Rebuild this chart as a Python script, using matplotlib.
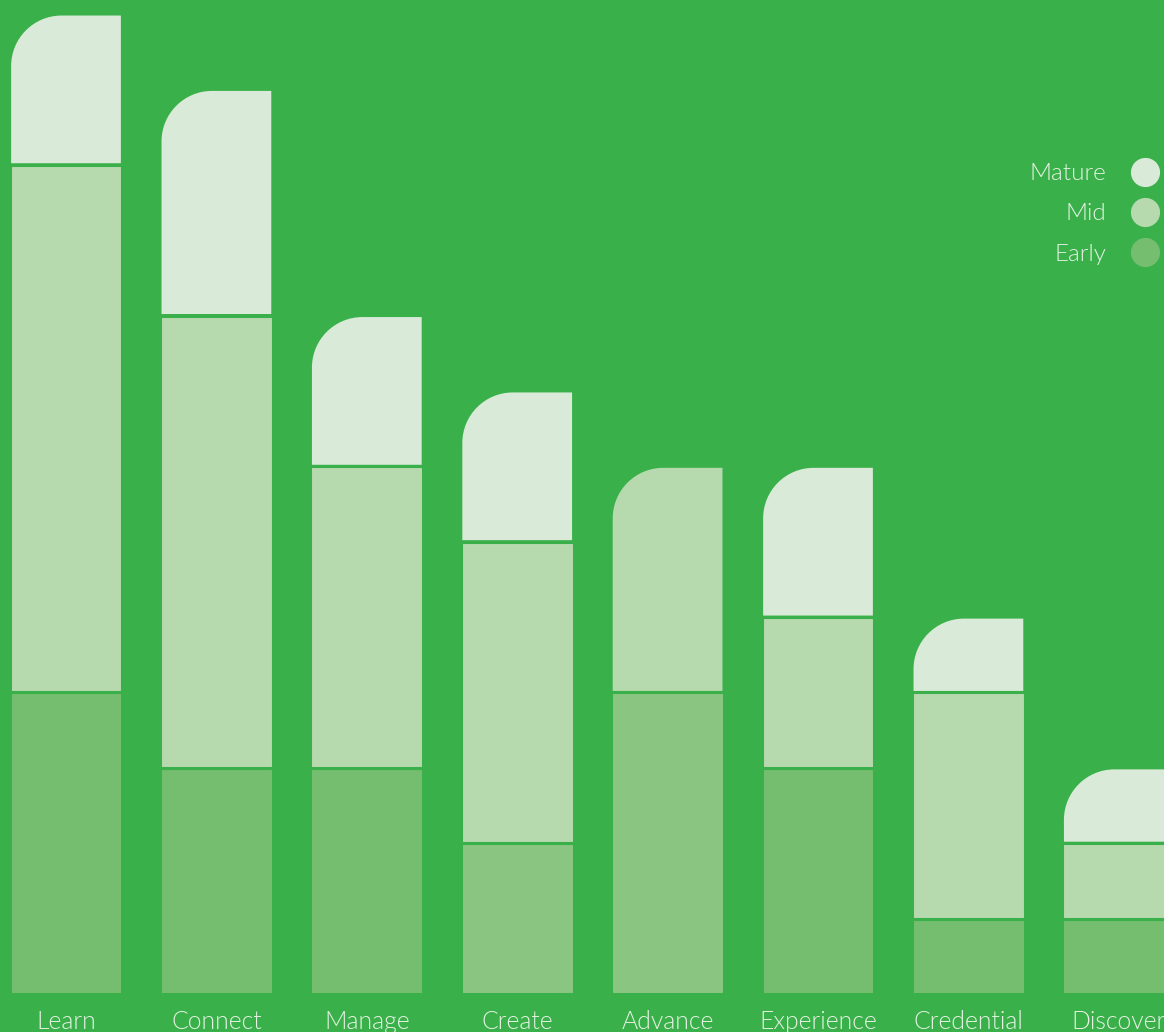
import matplotlib.pyplot as plt
from matplotlib.path import Path
from matplotlib.patches import PathPatch
from matplotlib.lines import Line2D

categories = ['Learn', 'Connect', 'Manage', 'Create', 'Advance', 'Experience', 'Credential', 'Discover']
early = [4, 3, 3, 2, 4, 3, 1, 1]
mid = [7, 6, 4, 4, 3, 2, 3, 1]
mature = [2, 3, 2, 2, 0, 2, 1, 1]

bg = '#3AB04A'
c_mature = '#D9EBD8'
c_mid = '#B7D9AE'
c_early = '#75BE6F'
c_early_light = '#8AC682'
early_colors = [c_early, c_early, c_early, c_early_light, c_early_light, c_early, c_early, c_early]
text_col = '#E4F2E2'

plt.rcParams['font.family'] = ['Lato', 'DejaVu Sans']

W, H = 1164, 1032
fig = plt.figure(figsize=(W / 100, H / 100), dpi=100, facecolor=bg)
# axes extends past the right edge, so the last bar is cut off like in the original
ax = fig.add_axes([-9.2 / W, 38 / H, 1203.2 / W, 980 / H])
ax.set_facecolor(bg)
ax.set_xlim(-0.5, 7.5)
ax.set_ylim(0, 13)
for s in ax.spines.values():
    s.set_visible(False)
ax.set_yticks([])
ax.set_xticks(range(len(categories)))
ax.set_xticklabels(categories, fontsize=17.8, color=text_col, fontweight=300)
ax.tick_params(axis='x', length=0, pad=11.5)

width = 0.75
# corner radius ~52 px, converted to data units
rx = 52 / 150.4
ry = 52 / 75.4
k = 0.5523
lw = 2.2


def rounded_top(x, y0, h, color):
    xl, xr = x - width / 2, x + width / 2
    y1 = y0 + h
    verts = [(xl, y0), (xr, y0), (xr, y1), (xl + rx, y1),
             (xl + rx - k * rx, y1), (xl, y1 - ry + k * ry), (xl, y1 - ry),
             (xl, y0), (xl, y0)]
    codes = [Path.MOVETO, Path.LINETO, Path.LINETO, Path.LINETO,
             Path.CURVE4, Path.CURVE4, Path.CURVE4,
             Path.LINETO, Path.CLOSEPOLY]
    ax.add_patch(PathPatch(Path(verts, codes), facecolor=color, edgecolor=bg, linewidth=lw))


for i in range(len(categories)):
    segs = [(early[i], early_colors[i]), (mid[i], c_mid), (mature[i], c_mature)]
    segs = [s for s in segs if s[0] > 0]
    bottom = 0
    for j, (v, col) in enumerate(segs):
        if j == len(segs) - 1:
            rounded_top(i, bottom, v, col)
        else:
            ax.bar(i, v, width=width, bottom=bottom, color=col, edgecolor=bg, linewidth=lw)
        bottom += v

handles = [Line2D([], [], linestyle='none', marker='o', markersize=21, markeredgewidth=0, color=c)
           for c in [c_mature, c_mid, c_early]]
leg = fig.legend(handles, ['Mature', 'Mid', 'Early'], markerfirst=False, frameon=False,
                 loc='upper right', bbox_to_anchor=(1173 / W, 1 - 151 / H),
                 fontsize=17.5, labelspacing=0.79, handlelength=1.3, handletextpad=0.95,
                 borderpad=0)
for t in leg.get_texts():
    t.set_color(text_col)
    t.set_fontweight(300)

fig.savefig('out.png', dpi=100, facecolor=bg)
